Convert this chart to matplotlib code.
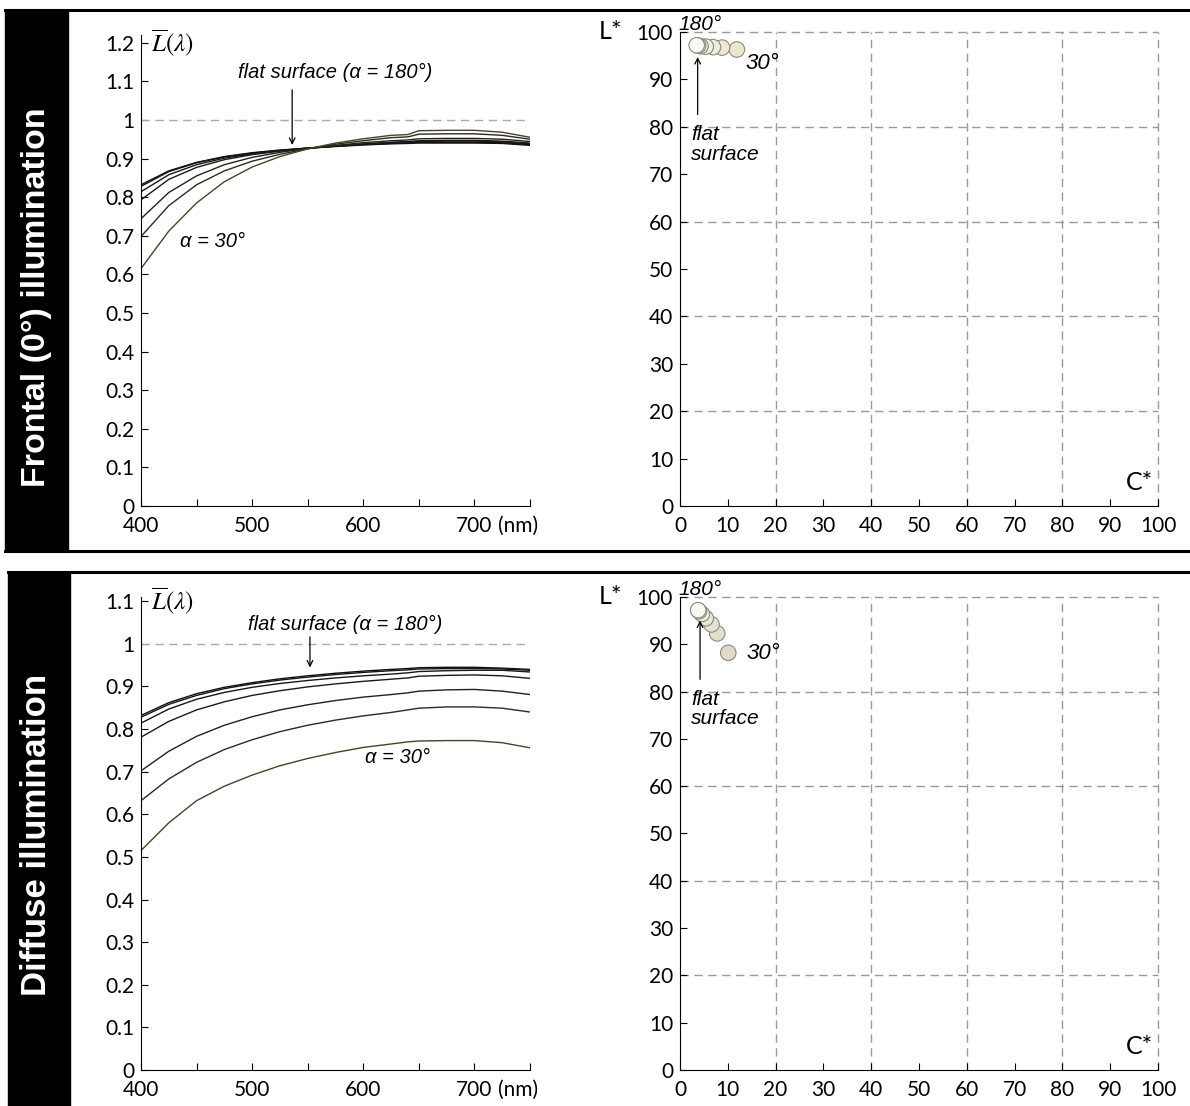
import numpy as np
import matplotlib
matplotlib.use("Agg")
import matplotlib.pyplot as plt
from matplotlib.patches import Rectangle
from matplotlib.lines import Line2D

plt.rcParams['font.family'] = ['Lato', 'DejaVu Sans']
plt.rcParams['mathtext.fontset'] = 'stix'

# wavelengths (nm)
wl = [400, 425, 450, 475, 500, 525, 550, 575, 600, 625, 640, 650, 675, 700, 725, 750]

# frontal illumination, flat surface (180) first, alpha = 30 last
front_180 = [0.832, 0.868, 0.890, 0.905, 0.915, 0.922, 0.927, 0.931, 0.935, 0.938, 0.939, 0.940, 0.940, 0.940, 0.939, 0.934]
front_150 = [0.828, 0.866, 0.889, 0.904, 0.914, 0.921, 0.927, 0.932, 0.936, 0.939, 0.941, 0.942, 0.942, 0.942, 0.941, 0.936]
front_120 = [0.814, 0.858, 0.884, 0.901, 0.912, 0.920, 0.927, 0.932, 0.937, 0.941, 0.943, 0.944, 0.945, 0.945, 0.943, 0.938]
front_90 = [0.793, 0.846, 0.877, 0.897, 0.910, 0.919, 0.926, 0.932, 0.938, 0.942, 0.944, 0.946, 0.947, 0.947, 0.945, 0.940]
front_60 = [0.744, 0.812, 0.855, 0.884, 0.903, 0.916, 0.926, 0.934, 0.941, 0.946, 0.948, 0.951, 0.952, 0.952, 0.950, 0.944]
front_45 = [0.698, 0.778, 0.832, 0.868, 0.893, 0.911, 0.925, 0.937, 0.946, 0.954, 0.956, 0.963, 0.964, 0.964, 0.960, 0.950]
front_30 = [0.615, 0.712, 0.785, 0.840, 0.878, 0.905, 0.925, 0.940, 0.951, 0.960, 0.962, 0.972, 0.973, 0.973, 0.968, 0.955]

# diffuse illumination
diff_180 = [0.832, 0.862, 0.883, 0.898, 0.909, 0.918, 0.925, 0.931, 0.936, 0.940, 0.942, 0.944, 0.945, 0.945, 0.943, 0.940]
diff_150 = [0.828, 0.858, 0.879, 0.895, 0.906, 0.915, 0.922, 0.928, 0.933, 0.937, 0.939, 0.941, 0.942, 0.942, 0.941, 0.938]
diff_120 = [0.814, 0.847, 0.870, 0.886, 0.898, 0.907, 0.914, 0.920, 0.925, 0.929, 0.932, 0.935, 0.937, 0.938, 0.938, 0.934]
diff_90 = [0.781, 0.818, 0.845, 0.864, 0.879, 0.890, 0.899, 0.906, 0.912, 0.917, 0.920, 0.924, 0.926, 0.927, 0.925, 0.919]
diff_60 = [0.702, 0.748, 0.783, 0.809, 0.829, 0.845, 0.857, 0.867, 0.875, 0.881, 0.885, 0.889, 0.892, 0.893, 0.889, 0.881]
diff_45 = [0.632, 0.683, 0.722, 0.752, 0.775, 0.794, 0.809, 0.821, 0.831, 0.839, 0.845, 0.849, 0.852, 0.852, 0.849, 0.840]
diff_30 = [0.515, 0.580, 0.632, 0.666, 0.692, 0.714, 0.731, 0.745, 0.757, 0.765, 0.770, 0.772, 0.773, 0.773, 0.768, 0.756]

front_curves = [front_180, front_150, front_120, front_90, front_60, front_45, front_30]
diff_curves = [diff_180, diff_150, diff_120, diff_90, diff_60, diff_45, diff_30]

# L* C* of each surface (flat first)
front_C = [3.5, 3.8, 4.3, 5.4, 6.9, 8.8, 11.9]
front_L = [97.2, 97.1, 97.0, 96.9, 96.8, 96.7, 96.3]
diff_C = [3.8, 4.0, 4.6, 5.4, 6.6, 7.8, 10.1]
diff_L = [97.2, 97.0, 96.4, 95.5, 94.2, 92.3, 88.2]

line_colors = ['#111111', '#141414', '#181716', '#1c1a17', '#24211a', '#2e2a1e', '#4a4226']
front_fill = ['#f8f7f1', '#f6f4ea', '#f4f1e4', '#f3efde', '#f1ecd8', '#efe9d2', '#eee6cc']
diff_fill = ['#f8f7f1', '#f3f1e8', '#eeebe0', '#e9e6d9', '#e6e2d3', '#e3dfcf', '#e0dbc9']

narrow = ['Liberation Sans Narrow', 'Liberation Sans', 'DejaVu Sans']

fig = plt.figure(figsize=(11.9, 11.06), dpi=100)

# frames and black side bars
fig.patches.append(Rectangle((0.0042, 0.5018), 0.0529, 0.4892, transform=fig.transFigure, color='black', zorder=0))
fig.patches.append(Rectangle((0.0067, 0.0), 0.0521, 0.4828, transform=fig.transFigure, color='black', zorder=0))
for x0, y in [(0.0042, 0.991), (0.0042, 0.5018), (0.0067, 0.4828)]:
    fig.lines.append(Line2D([x0, 1.0], [y, y], transform=fig.transFigure, color='black', lw=2.2))
fig.text(0.0303, 0.7315, 'Frontal (0°) illumination', rotation=90, color='white', fontsize=24.5,
         fontweight='bold', family=['Liberation Sans', 'DejaVu Sans'], ha='center', va='center')
fig.text(0.031, 0.245, 'Diffuse illumination', rotation=90, color='white', fontsize=25,
         fontweight='bold', family=['Liberation Sans', 'DejaVu Sans'], ha='center', va='center')


def spectra_axes(rect, curves, ymax, yticks, ann):
    ax = fig.add_axes(rect)
    for c, col in zip(curves, line_colors):
        ax.plot(wl, c, color=col, lw=1.0)
    ax.axhline(1.0, color='#aaaaaa', lw=1.0, ls=(0, (6, 4)))
    ax.set_xlim(400, 750)
    ax.set_ylim(0, ymax)
    ax.spines['top'].set_visible(False)
    ax.spines['right'].set_visible(False)
    ax.set_xticks(np.arange(400, 751, 50))
    ax.set_xticklabels(['400', '', '500', '', '600', '', '700', ''])
    ax.set_yticks(yticks)
    ax.set_yticklabels([('%g' % t) for t in yticks])
    ax.tick_params(direction='in', length=5, labelsize=15)
    ax.tick_params(axis='x', pad=7)
    ax.tick_params(axis='y', pad=5)
    ax.annotate('(nm)', xy=(700, 0), xytext=(17, -7), textcoords='offset points',
                ha='left', va='top', fontsize=15, annotation_clip=False)
    ax.text(409, yticks[-1], r'$\overline{L}(\lambda)$', fontsize=18, ha='left', va='center')
    tx, ty, ax_x, ax_y0, ax_y1, lx, ly = ann
    ax.text(tx, ty, 'flat surface (α = 180°)', fontsize=14.5, style='italic', family=narrow,
            ha='center', va='center')
    ax.annotate('', xy=(ax_x, ax_y1), xytext=(ax_x, ax_y0),
                arrowprops=dict(arrowstyle='->', color='black', lw=0.9))
    ax.text(lx, ly, 'α = 30°', fontsize=14.5, style='italic', family=narrow, ha='center', va='center')
    return ax


def lc_axes(rect, C, L, fills, lab30, labflat, arrow):
    ax = fig.add_axes(rect)
    for v in [20, 40, 60, 80, 100]:
        ax.axvline(v, color='#999999', lw=1.0, ls=(0, (6, 4)), clip_on=False, zorder=0)
        ax.axhline(v, color='#999999', lw=1.0, ls=(0, (6, 4)), clip_on=False, zorder=0)
    # flat surface drawn last so it sits on top
    ax.scatter(C[::-1], L[::-1], s=125, c=fills[::-1], edgecolors='#8a8a80', linewidths=0.8,
               zorder=3, clip_on=False)
    ax.set_xlim(0, 100)
    ax.set_ylim(0, 100)
    for s in ['top', 'right']:
        ax.spines[s].set_visible(False)
    ax.set_xticks(np.arange(0, 101, 10))
    ax.set_yticks(np.arange(0, 101, 10))
    ax.tick_params(direction='in', length=5, labelsize=15)
    ax.tick_params(axis='x', pad=7)
    ax.tick_params(axis='y', pad=5)
    ax.text(-12.0, 100, 'L*', fontsize=18, ha='right', va='center')
    ax.text(99, 5, 'C*', fontsize=18, ha='right', va='center')
    ax.text(4.3, 101.5, '180°', fontsize=15, style='italic', family=narrow, ha='center', va='center')
    ax.text(lab30[0], lab30[1], '30°', fontsize=16, style='italic', family=narrow, ha='center', va='center')
    ax.text(labflat[0], labflat[1], 'flat\nsurface', fontsize=15, style='italic', family=narrow,
            ha='left', va='center', linespacing=1.05)
    ax.annotate('', xy=(arrow[0], arrow[2]), xytext=(arrow[0], arrow[1]),
                arrowprops=dict(arrowstyle='->', color='black', lw=0.9))
    return ax


spectra_axes([0.1185, 0.5425, 0.3269, 0.4259], front_curves, 1.22,
             [0, 0.1, 0.2, 0.3, 0.4, 0.5, 0.6, 0.7, 0.8, 0.9, 1, 1.1, 1.2],
             (575, 1.124, 536, 1.085, 0.928, 464, 0.684))
spectra_axes([0.1185, 0.03255, 0.3269, 0.4277], diff_curves, 1.11,
             [0, 0.1, 0.2, 0.3, 0.4, 0.5, 0.6, 0.7, 0.8, 0.9, 1, 1.1],
             (584, 1.045, 552, 1.023, 0.938, 631, 0.733))

lc_axes([0.5714, 0.5425, 0.4017, 0.4286], front_C, front_L, front_fill,
        (17.2, 93.4), (2.4, 76.3), (3.7, 82.0, 95.3))
lc_axes([0.5714, 0.03255, 0.4017, 0.4277], diff_C, diff_L, diff_fill,
        (17.5, 88.0), (2.4, 76.3), (4.2, 82.0, 95.6))

fig.savefig('out.png', dpi=100)
